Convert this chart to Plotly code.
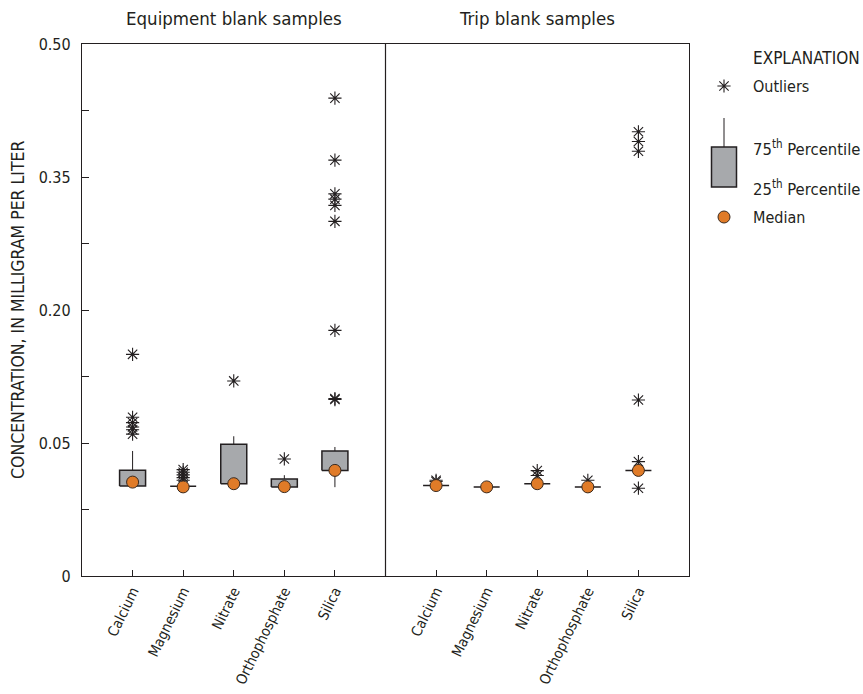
import plotly.graph_objects as go

# Constituents measured in each blank type
categories = ["Calcium", "Magnesium", "Nitrate", "Orthophosphate", "Silica"]

# Equipment blank samples (mg/L)
eq_q1 = [0.0338, 0.0337, 0.0347, 0.0335, 0.0397]
eq_q3 = [0.0398, 0.0337, 0.0495, 0.0365, 0.0470]
eq_low = [0.0338, 0.0337, 0.0347, 0.0335, 0.0334]
eq_high = [0.0470, 0.0337, 0.0576, 0.0379, 0.0485]
eq_median = [0.0353, 0.0335, 0.0347, 0.0336, 0.0397]
eq_outliers = [
    [0.150, 0.079, 0.073, 0.068, 0.065, 0.060],
    [0.040, 0.039, 0.038, 0.037, 0.036],
    [0.120],
    [0.044],
    [0.439, 0.369, 0.331, 0.325, 0.318, 0.300, 0.177, 0.099, 0.100],
]

# Trip blank samples (mg/L)
tr_q1 = [0.0340, 0.0335, 0.0347, 0.0335, 0.0397]
tr_q3 = [0.0340, 0.0335, 0.0347, 0.0335, 0.0397]
tr_low = [0.0340, 0.0335, 0.0347, 0.0335, 0.0397]
tr_high = [0.0340, 0.0335, 0.0347, 0.0335, 0.0397]
tr_median = [0.0340, 0.0335, 0.0347, 0.0335, 0.0397]
tr_outliers = [
    [0.0355, 0.0360],
    [],
    [0.0396, 0.0378],
    [0.0360],
    [0.401, 0.390, 0.379, 0.0985, 0.043, 0.033],
]

y_tick_values = [0, 0.05, 0.20, 0.35, 0.50]
y_tick_text = ["0", "0.05", "0.20", "0.35", "0.50"]
y_minor_values = [0.025, 0.125, 0.275, 0.425]


def scale(v):
    """Broken concentration axis: 0-0.05 stretched, 0.05-0.50 linear."""
    return v / 0.05 if v <= 0.05 else 1 + (v - 0.05) / 0.15


eq_pos = [1, 2, 3, 4, 5]
tr_pos = [7, 8, 9, 10, 11]
pos = eq_pos + tr_pos
q1 = eq_q1 + tr_q1
q3 = eq_q3 + tr_q3
low = eq_low + tr_low
high = eq_high + tr_high
median = eq_median + tr_median
outliers = eq_outliers + tr_outliers

HW = 0.257
INK = "#231F20"
GRAY = "#A7A9AC"
ORANGE = "#E07B28"
FONT = "Liberation Sans Narrow, Arial Narrow, DejaVu Sans Condensed, sans-serif"

STAR = dict(symbol="asterisk-open", size=11, color=INK,
            line=dict(color=INK, width=1.1))
DOT = dict(symbol="circle", size=12, color=ORANGE,
           line=dict(color="#3B2A1E", width=1))

# Box rectangles
bx, by = [], []
for p, a, b in zip(pos, q1, q3):
    bx += [p - HW, p + HW, p + HW, p - HW, p - HW, None]
    by += [scale(a), scale(a), scale(b), scale(b), scale(a), None]

# Whiskers
wx, wy = [], []
for p, a, b, lo, hi in zip(pos, q1, q3, low, high):
    if hi > b:
        wx += [p, p, None]
        wy += [scale(b), scale(hi), None]
    if lo < a:
        wx += [p, p, None]
        wy += [scale(a), scale(lo), None]

ox, oy = [], []
for p, vals in zip(pos, outliers):
    for v in vals:
        ox.append(p)
        oy.append(scale(v))

fig = go.Figure()
fig.add_trace(go.Scatter(x=bx, y=by, mode="lines", fill="toself",
                         fillcolor=GRAY, line=dict(color=INK, width=1.5),
                         hoverinfo="skip", showlegend=False))
fig.add_trace(go.Scatter(x=wx, y=wy, mode="lines",
                         line=dict(color=INK, width=1),
                         hoverinfo="skip", showlegend=False))
fig.add_trace(go.Scatter(x=ox, y=oy, mode="markers", marker=STAR,
                         showlegend=False))
fig.add_trace(go.Scatter(x=pos, y=[scale(m) for m in median], mode="markers",
                         marker=DOT, showlegend=False))

# Explanation key (pixel-like coordinates on a hidden axis pair)
fig.add_trace(go.Scatter(x=[724], y=[86], xaxis="x2", yaxis="y2", mode="markers",
                         marker=STAR, showlegend=False, hoverinfo="skip"))
fig.add_trace(go.Scatter(x=[724], y=[217], xaxis="x2", yaxis="y2", mode="markers",
                         marker=DOT, showlegend=False, hoverinfo="skip"))

shapes = [
    dict(type="line", xref="x", yref="paper", x0=6, x1=6, y0=0, y1=1,
         line=dict(color=INK, width=1.2)),
    dict(type="line", xref="x2", yref="y2", x0=724, x1=724, y0=118, y1=147,
         line=dict(color=INK, width=1)),
    dict(type="rect", xref="x2", yref="y2", x0=711.5, x1=736.5, y0=147, y1=187,
         fillcolor=GRAY, line=dict(color=INK, width=1.5)),
]

W, H = 863, 694
L, R, T, B = 82, 5, 44, 118
pw = W - L - R

annotations = [
    dict(text="Equipment blank samples", x=3, y=1, xref="x", yref="paper",
         yanchor="middle", yshift=26, showarrow=False,
         font=dict(size=18.5, color=INK, family=FONT)),
    dict(text="Trip blank samples", x=9, y=1, xref="x", yref="paper",
         yanchor="middle", yshift=26, showarrow=False,
         font=dict(size=18.5, color=INK, family=FONT)),
    dict(text="CONCENTRATION, IN MILLIGRAM PER LITER", x=(18 - L) / pw, y=0.5,
         xref="paper", yref="paper", xanchor="center", textangle=-90,
         showarrow=False, font=dict(size=17.5, color=INK, family=FONT)),
]
for txt, yy, fs in [("EXPLANATION", 58, 17), ("Outliers", 86, 16),
                    ("75<sup>th</sup> Percentile", 148, 16.5),
                    ("25<sup>th</sup> Percentile", 188, 16.5),
                    ("Median", 217, 16)]:
    annotations.append(dict(text=txt, x=751, y=yy, xref="x2", yref="y2",
                            xanchor="left", yanchor="middle", showarrow=False,
                            font=dict(size=fs, color=INK, family=FONT)))

fig.update_layout(
    width=W, height=H,
    margin=dict(l=L, r=R, t=T, b=B, autoexpand=False),
    paper_bgcolor="white", plot_bgcolor="white",
    font=dict(family=FONT, color=INK),
    shapes=shapes, annotations=annotations,
    xaxis=dict(domain=[0, (689 - L) / pw], range=[0, 12], automargin=False,
               tickvals=[1, 2, 3, 4, 5, 6, 7, 8, 9, 10, 11],
               ticktext=categories + [""] + categories,
               tickangle=-64, ticks="inside", ticklen=6, tickcolor=INK,
               ticklabelstandoff=0,
               showline=True, mirror=True, linecolor=INK, linewidth=1.2,
               showgrid=False, zeroline=False,
               tickfont=dict(size=14.5, color=INK, family=FONT)),
    yaxis=dict(range=[0, 4], automargin=False,
               tickvals=[scale(v) for v in y_tick_values],
               ticktext=y_tick_text, ticks="inside", ticklen=7, tickcolor=INK,
               ticklabelstandoff=7,
               minor=dict(tickvals=[scale(v) for v in y_minor_values],
                          ticks="inside", ticklen=7, tickcolor=INK),
               showline=True, mirror=True, linecolor=INK, linewidth=1.2,
               showgrid=False, zeroline=False,
               tickfont=dict(size=16, color=INK, family=FONT)),
    xaxis2=dict(domain=[(695 - L) / pw, 1], range=[695, 858], visible=False,
                anchor="y2"),
    yaxis2=dict(domain=[0, 1], range=[576, 44], visible=False, anchor="x2"),
)

fig.write_html("out.html")
